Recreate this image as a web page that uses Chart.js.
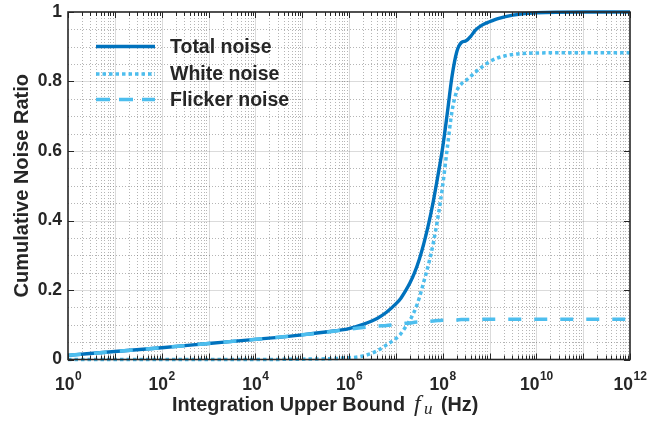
<!DOCTYPE html>
<html>
<head>
<meta charset="utf-8">
<title>Cumulative Noise Ratio</title>
<script src="https://cdn.jsdelivr.net/npm/chart.js@4.4.1/dist/chart.umd.min.js"></script>
<style>
  html, body { margin: 0; padding: 0; background: #ffffff; }
  #wrap { width: 670px; height: 424px; position: relative; }
</style>
</head>
<body>
<div id="wrap"><canvas id="chart"></canvas></div>
<script>
// Integration upper bound, as log10 of frequency in Hz
const freqExp = [0, 1, 2, 3, 4, 5, 5.5, 6, 6.3, 6.6, 6.8, 7, 7.1, 7.2, 7.3, 7.4, 7.5, 7.6, 7.7, 7.8, 7.9,
                 8, 8.1, 8.2, 8.3, 8.4, 8.5, 8.6, 8.7, 8.85, 9, 9.2, 9.5, 10, 11, 12];

// Cumulative noise ratio of each component
const totalNoise   = [0.012, 0.023, 0.034, 0.046, 0.058, 0.071, 0.079, 0.089, 0.101, 0.118, 0.136, 0.160, 0.175, 0.196,
                      0.220, 0.250, 0.288, 0.335, 0.390, 0.455, 0.530, 0.610, 0.710, 0.815, 0.885, 0.912, 0.917, 0.930,
                      0.948, 0.963, 0.972, 0.982, 0.991, 0.998, 1.000, 1.000];
const whiteNoise   = [0.000, 0.000, 0.000, 0.000, 0.000, 0.001, 0.002, 0.005, 0.010, 0.025, 0.042, 0.060, 0.073, 0.092,
                      0.113, 0.140, 0.177, 0.225, 0.275, 0.335, 0.410, 0.500, 0.610, 0.715, 0.772, 0.793, 0.803, 0.815,
                      0.827, 0.843, 0.857, 0.869, 0.878, 0.882, 0.883, 0.883];
const flickerNoise = [0.012, 0.023, 0.034, 0.046, 0.058, 0.071, 0.078, 0.087, 0.092, 0.096, 0.098, 0.101, 0.102, 0.104,
                      0.105, 0.107, 0.108, 0.109, 0.110, 0.111, 0.112, 0.113, 0.113, 0.114, 0.114, 0.115, 0.115, 0.115,
                      0.116, 0.116, 0.116, 0.116, 0.116, 0.116, 0.116, 0.116];

const seriesNames = ['Total noise', 'White noise', 'Flicker noise'];
const xTickExp = [0, 2, 4, 6, 8, 10, 12];
const yTickValues = [0, 0.2, 0.4, 0.6, 0.8, 1];
const yTickLabels = ['0', '0.2', '0.4', '0.6', '0.8', '1'];

const DARK_BLUE = '#0072BD';
const LIGHT_BLUE = '#4DBEEE';
const INK = '#262626';
const SANS = '"Liberation Sans", Arial, sans-serif';
const SERIF = '"Liberation Serif", "Times New Roman", serif';

const toPoints = vals => freqExp.map((e, i) => ({ x: Math.pow(10, e), y: vals[i] }));

const styles = [
  { color: DARK_BLUE, width: 3.4, dash: [], legendDash: [] },
  { color: LIGHT_BLUE, width: 3.5, dash: [3.5, 3], legendDash: [3.5, 3] },
  { color: LIGHT_BLUE, width: 3.5, dash: [13, 13], legendDash: [14, 9] }
];

// Axes frame, grid, ticks, labels and legend drawn around the plot area
const framePlugin = {
  id: 'frame',
  beforeDatasetsDraw(chart) {
    const { ctx, chartArea: a, scales: { x, y } } = chart;
    const line = (x1, y1, x2, y2) => { ctx.beginPath(); ctx.moveTo(x1, y1); ctx.lineTo(x2, y2); ctx.stroke(); };
    ctx.save();
    // minor grid
    ctx.lineWidth = 1;
    ctx.strokeStyle = 'rgba(120,120,120,0.55)';
    ctx.setLineDash([1, 2]);
    for (let e = 0; e < 12; e++) {
      for (let k = 2; k <= 9; k++) {
        const px = Math.round(x.getPixelForValue(k * Math.pow(10, e))) + 0.5;
        line(px, a.top, px, a.bottom);
      }
    }
    for (let i = 1; i < 20; i++) {
      if (i % 4 === 0) continue;
      const py = Math.round(y.getPixelForValue(i * 0.05)) + 0.5;
      line(a.left, py, a.right, py);
    }
    // major grid
    ctx.setLineDash([]);
    ctx.strokeStyle = 'rgba(0,0,0,0.14)';
    for (let e = 1; e < 12; e++) {
      const px = Math.round(x.getPixelForValue(Math.pow(10, e))) + 0.5;
      line(px, a.top, px, a.bottom);
    }
    for (let i = 1; i < 5; i++) {
      const py = Math.round(y.getPixelForValue(i * 0.2)) + 0.5;
      line(a.left, py, a.right, py);
    }
    ctx.restore();
  },
  afterDatasetsDraw(chart) {
    const { ctx, chartArea: a, scales: { x, y } } = chart;
    const line = (x1, y1, x2, y2) => { ctx.beginPath(); ctx.moveTo(x1, y1); ctx.lineTo(x2, y2); ctx.stroke(); };
    ctx.save();
    ctx.strokeStyle = INK;
    ctx.setLineDash([]);
    // ticks (inward, all four sides)
    ctx.lineWidth = 1;
    for (let e = 0; e <= 12; e++) {
      const px = Math.round(x.getPixelForValue(Math.pow(10, e))) + 0.5;
      line(px, a.bottom, px, a.bottom - 6);
      line(px, a.top, px, a.top + 6);
      if (e === 12) break;
      for (let k = 2; k <= 9; k++) {
        const mx = Math.round(x.getPixelForValue(k * Math.pow(10, e))) + 0.5;
        line(mx, a.bottom, mx, a.bottom - 4);
        line(mx, a.top, mx, a.top + 4);
      }
    }
    yTickValues.forEach(v => {
      const py = Math.round(y.getPixelForValue(v)) + 0.5;
      line(a.left, py, a.left + 6, py);
      line(a.right, py, a.right - 6, py);
    });
    // box
    ctx.lineWidth = 1.6;
    ctx.strokeRect(a.left, a.top, a.right - a.left, a.bottom - a.top);

    // y tick labels
    ctx.fillStyle = INK;
    ctx.font = 'bold 17.5px ' + SANS;
    ctx.textAlign = 'right';
    ctx.textBaseline = 'middle';
    yTickValues.forEach((v, i) => ctx.fillText(yTickLabels[i], a.left - 6, y.getPixelForValue(v)));

    // x tick labels: 10 with superscript exponent
    ctx.textBaseline = 'alphabetic';
    ctx.textAlign = 'left';
    xTickExp.forEach(e => {
      const px = x.getPixelForValue(Math.pow(10, e));
      ctx.font = 'bold 17.5px ' + SANS;
      const wBase = ctx.measureText('10').width;
      ctx.font = 'bold 12px ' + SANS;
      const wExp = ctx.measureText(String(e)).width;
      const x0 = px - (wBase + wExp) / 2;
      ctx.font = 'bold 17.5px ' + SANS;
      ctx.fillText('10', x0, 389.5);
      ctx.font = 'bold 12px ' + SANS;
      ctx.fillText(String(e), x0 + wBase + 0.5, 380);
    });

    // axis titles
    ctx.font = 'bold 19.8px ' + SANS;
    ctx.textAlign = 'left';
    ctx.fillText('Integration Upper Bound', 172, 411);
    ctx.font = 'italic 24px ' + SERIF;
    ctx.fillText('f', 414, 411);
    ctx.font = 'italic 17px ' + SERIF;
    ctx.fillText('u', 424, 414);
    ctx.font = 'bold 19.8px ' + SANS;
    ctx.fillText('(Hz)', 441, 411);

    ctx.save();
    ctx.translate(22, (a.top + a.bottom) / 2);
    ctx.rotate(-Math.PI / 2);
    ctx.textAlign = 'center';
    ctx.textBaseline = 'middle';
    ctx.font = 'bold 20px ' + SANS;
    ctx.fillText('Cumulative Noise Ratio', 0, 0);
    ctx.restore();

    // legend
    const legendY = [46.5, 74, 99.5];
    seriesNames.forEach((name, i) => {
      const s = styles[i];
      ctx.strokeStyle = s.color;
      ctx.lineWidth = s.width;
      ctx.setLineDash(s.legendDash);
      line(96, legendY[i], 155, legendY[i]);
      ctx.setLineDash([]);
      ctx.fillStyle = INK;
      ctx.font = 'bold 19.5px ' + SANS;
      ctx.textBaseline = 'middle';
      ctx.fillText(name, 170, legendY[i] + 1);
    });
    ctx.restore();
  }
};

new Chart(document.getElementById('chart'), {
  type: 'line',
  data: {
    datasets: [
      { label: seriesNames[0], data: toPoints(totalNoise), borderColor: styles[0].color,
        borderWidth: styles[0].width, borderDash: styles[0].dash, order: 3 },
      { label: seriesNames[1], data: toPoints(whiteNoise), borderColor: styles[1].color,
        borderWidth: styles[1].width, borderDash: styles[1].dash, order: 2 },
      { label: seriesNames[2], data: toPoints(flickerNoise), borderColor: styles[2].color,
        borderWidth: styles[2].width, borderDash: styles[2].dash, order: 1 }
    ]
  },
  options: {
    responsive: true,
    maintainAspectRatio: false,
    animation: false,
    layout: { padding: { left: 68, right: 40, top: 12, bottom: 64.5 } },
    elements: {
      point: { radius: 0, hoverRadius: 0 },
      line: { fill: false, cubicInterpolationMode: 'monotone', borderCapStyle: 'butt' }
    },
    datasets: { line: { clip: 4 } },
    plugins: { legend: { display: false }, tooltip: { enabled: false } },
    scales: {
      x: { type: 'logarithmic', min: 1, max: 1e12, display: false },
      y: { type: 'linear', min: 0, max: 1, display: false }
    }
  },
  plugins: [framePlugin]
});
</script>
</body>
</html>
